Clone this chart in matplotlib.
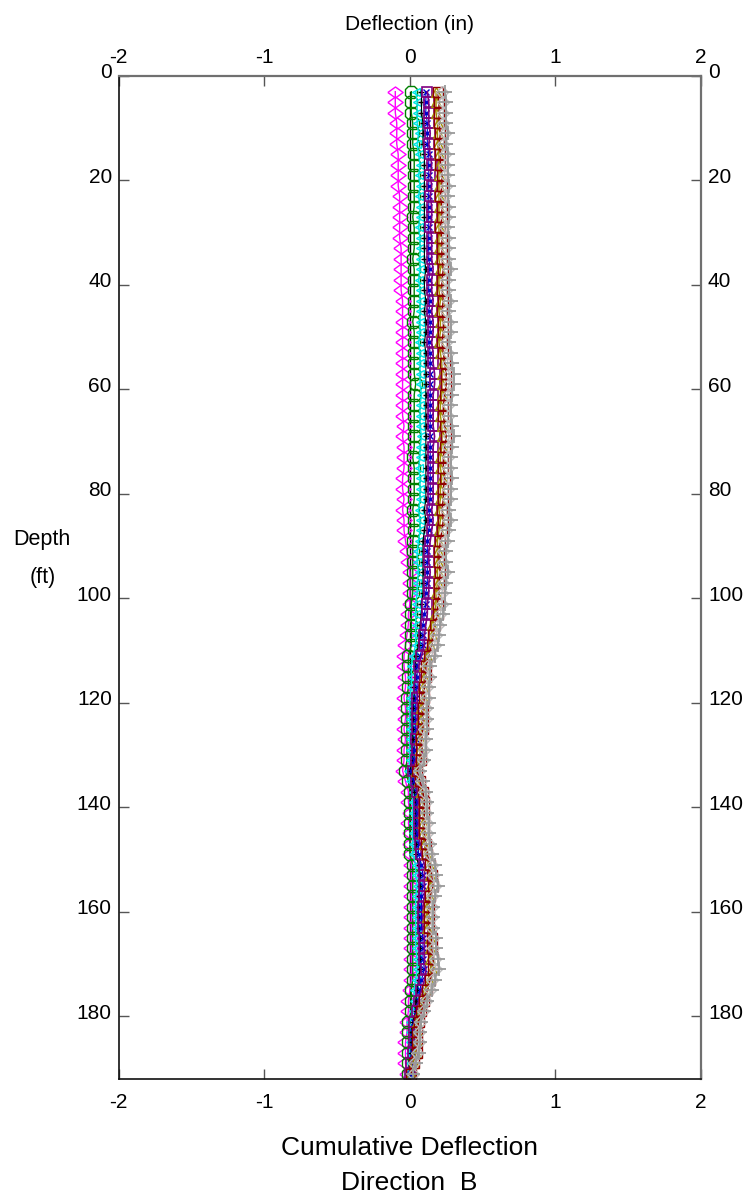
import numpy as np
import matplotlib
matplotlib.use("Agg")
import matplotlib.pyplot as plt
from matplotlib.transforms import ScaledTranslation

plt.rcParams['font.family'] = ['Liberation Sans', 'DejaVu Sans']

# Depth of readings (ft)
depth = np.arange(3, 192, 2)

# Cumulative deflection (in) for each reading set
baseline = [0.0] * len(depth)

magenta = [-0.10, -0.10, -0.10, -0.09, -0.09, -0.09, -0.08, -0.08, -0.08, -0.08,
           -0.07, -0.07, -0.07, -0.07, -0.07, -0.06, -0.06, -0.06, -0.06, -0.06,
           -0.05, -0.05, -0.05, -0.05, -0.05, -0.05, -0.05, -0.05, -0.05, -0.05,
           -0.05, -0.05, -0.04, -0.05, -0.04, -0.04, -0.04, -0.05, -0.05, -0.04,
           -0.05, -0.04, -0.04, -0.03, -0.02, -0.01, 0.00, 0.00, 0.00, 0.00,
           -0.01, -0.01, -0.02, -0.03, -0.04, -0.04, -0.03, -0.03, -0.04, -0.03,
           -0.03, -0.04, -0.03, -0.04, -0.04, -0.05, -0.03, -0.01, -0.01, 0.00,
           -0.01, 0.00, 0.00, 0.00, 0.01, 0.01, 0.01, 0.01, 0.01, 0.01,
           0.01, 0.01, 0.01, 0.01, 0.01, 0.01, 0.00, -0.01, -0.01, -0.02,
           -0.02, -0.03, -0.03, -0.03, -0.02]

green = [0.01, 0.01, 0.01, 0.02, 0.02, 0.02, 0.03, 0.03, 0.03, 0.03,
         0.03, 0.03, 0.02, 0.03, 0.03, 0.03, 0.02, 0.03, 0.03, 0.03,
         0.03, 0.03, 0.02, 0.03, 0.03, 0.03, 0.03, 0.03, 0.04, 0.03,
         0.03, 0.03, 0.03, 0.03, 0.03, 0.02, 0.03, 0.03, 0.03, 0.03,
         0.02, 0.03, 0.03, 0.02, 0.02, 0.02, 0.02, 0.02, 0.02, 0.01,
         0.01, 0.01, 0.01, 0.01, -0.01, -0.01, -0.01, -0.01, -0.02, -0.02,
         -0.02, -0.02, -0.02, -0.02, -0.02, -0.03, -0.01, 0.00, 0.00, 0.00,
         0.00, 0.00, 0.00, 0.00, 0.02, 0.02, 0.02, 0.02, 0.02, 0.02,
         0.02, 0.02, 0.02, 0.02, 0.02, 0.02, 0.01, 0.01, 0.01, -0.01,
         -0.01, -0.01, -0.01, -0.01, -0.01]

cyan = [0.04, 0.05, 0.05, 0.05, 0.06, 0.05, 0.06, 0.07, 0.06, 0.07,
        0.06, 0.07, 0.07, 0.06, 0.07, 0.07, 0.07, 0.07, 0.06, 0.07,
        0.07, 0.07, 0.07, 0.07, 0.06, 0.07, 0.07, 0.07, 0.07, 0.08,
        0.07, 0.07, 0.07, 0.08, 0.07, 0.07, 0.06, 0.07, 0.07, 0.07,
        0.06, 0.07, 0.07, 0.06, 0.05, 0.05, 0.06, 0.05, 0.05, 0.04,
        0.04, 0.04, 0.04, 0.04, 0.02, 0.01, 0.01, 0.01, 0.00, 0.00,
        0.00, 0.00, 0.00, 0.00, 0.00, -0.01, 0.00, 0.02, 0.02, 0.02,
        0.02, 0.02, 0.02, 0.02, 0.04, 0.04, 0.05, 0.04, 0.04, 0.04,
        0.04, 0.04, 0.04, 0.05, 0.05, 0.04, 0.03, 0.03, 0.02, 0.00,
        0.00, 0.00, 0.00, 0.00, -0.01]

black = [0.08, 0.08, 0.08, 0.09, 0.09, 0.09, 0.10, 0.10, 0.10, 0.10,
         0.10, 0.10, 0.10, 0.10, 0.10, 0.10, 0.10, 0.11, 0.10, 0.10,
         0.11, 0.10, 0.11, 0.11, 0.10, 0.11, 0.11, 0.11, 0.11, 0.11,
         0.11, 0.11, 0.11, 0.11, 0.11, 0.11, 0.11, 0.11, 0.11, 0.11,
         0.10, 0.11, 0.10, 0.09, 0.09, 0.09, 0.09, 0.09, 0.09, 0.08,
         0.08, 0.07, 0.07, 0.06, 0.04, 0.04, 0.04, 0.03, 0.03, 0.02,
         0.02, 0.02, 0.02, 0.02, 0.02, 0.00, 0.02, 0.03, 0.04, 0.04,
         0.04, 0.04, 0.04, 0.04, 0.06, 0.07, 0.07, 0.06, 0.06, 0.06,
         0.06, 0.07, 0.07, 0.07, 0.07, 0.06, 0.05, 0.04, 0.04, 0.02,
         0.01, 0.01, 0.01, 0.01, 0.00]

blue = [0.11, 0.11, 0.11, 0.12, 0.12, 0.12, 0.13, 0.13, 0.13, 0.13,
        0.13, 0.13, 0.13, 0.13, 0.13, 0.13, 0.13, 0.14, 0.13, 0.13,
        0.14, 0.13, 0.14, 0.14, 0.13, 0.14, 0.14, 0.14, 0.14, 0.14,
        0.14, 0.14, 0.14, 0.14, 0.14, 0.14, 0.14, 0.14, 0.14, 0.14,
        0.13, 0.14, 0.13, 0.12, 0.12, 0.12, 0.12, 0.12, 0.11, 0.11,
        0.10, 0.09, 0.09, 0.09, 0.07, 0.05, 0.05, 0.05, 0.04, 0.04,
        0.04, 0.04, 0.04, 0.03, 0.03, 0.01, 0.03, 0.05, 0.05, 0.05,
        0.05, 0.05, 0.06, 0.06, 0.08, 0.09, 0.09, 0.08, 0.08, 0.08,
        0.08, 0.09, 0.09, 0.09, 0.10, 0.08, 0.07, 0.06, 0.05, 0.03,
        0.02, 0.02, 0.02, 0.01, 0.00]

purple = [0.12, 0.13, 0.13, 0.13, 0.14, 0.13, 0.14, 0.15, 0.14, 0.15,
          0.14, 0.15, 0.15, 0.14, 0.15, 0.15, 0.15, 0.16, 0.15, 0.15,
          0.16, 0.15, 0.16, 0.16, 0.15, 0.16, 0.16, 0.17, 0.17, 0.16,
          0.16, 0.16, 0.16, 0.17, 0.16, 0.16, 0.16, 0.16, 0.16, 0.16,
          0.15, 0.16, 0.15, 0.14, 0.13, 0.13, 0.14, 0.13, 0.13, 0.12,
          0.12, 0.11, 0.10, 0.10, 0.08, 0.06, 0.07, 0.06, 0.05, 0.05,
          0.05, 0.05, 0.04, 0.05, 0.04, 0.02, 0.04, 0.05, 0.06, 0.06,
          0.06, 0.06, 0.07, 0.08, 0.10, 0.10, 0.10, 0.10, 0.09, 0.09,
          0.09, 0.10, 0.10, 0.10, 0.11, 0.10, 0.08, 0.06, 0.05, 0.03,
          0.03, 0.03, 0.02, 0.01, 0.00]

olive = [0.18, 0.18, 0.18, 0.19, 0.19, 0.19, 0.20, 0.20, 0.20, 0.20,
         0.20, 0.20, 0.20, 0.20, 0.20, 0.20, 0.20, 0.21, 0.20, 0.20,
         0.21, 0.20, 0.21, 0.21, 0.20, 0.21, 0.22, 0.22, 0.22, 0.22,
         0.21, 0.21, 0.22, 0.22, 0.22, 0.21, 0.21, 0.22, 0.21, 0.21,
         0.20, 0.21, 0.20, 0.19, 0.19, 0.19, 0.19, 0.19, 0.18, 0.18,
         0.17, 0.15, 0.15, 0.14, 0.12, 0.10, 0.10, 0.09, 0.09, 0.08,
         0.08, 0.08, 0.07, 0.07, 0.07, 0.04, 0.06, 0.08, 0.09, 0.09,
         0.09, 0.09, 0.10, 0.11, 0.13, 0.14, 0.14, 0.13, 0.12, 0.12,
         0.12, 0.14, 0.14, 0.14, 0.15, 0.13, 0.11, 0.09, 0.07, 0.05,
         0.05, 0.05, 0.04, 0.03, 0.01]

darkred = [0.19, 0.20, 0.20, 0.20, 0.21, 0.20, 0.21, 0.21, 0.22, 0.22,
           0.21, 0.22, 0.22, 0.21, 0.22, 0.22, 0.22, 0.23, 0.22, 0.22,
           0.23, 0.22, 0.23, 0.23, 0.22, 0.23, 0.24, 0.25, 0.25, 0.24,
           0.23, 0.23, 0.24, 0.25, 0.24, 0.23, 0.23, 0.24, 0.23, 0.23,
           0.22, 0.23, 0.22, 0.21, 0.20, 0.20, 0.21, 0.20, 0.20, 0.19,
           0.19, 0.17, 0.16, 0.15, 0.13, 0.11, 0.11, 0.10, 0.10, 0.09,
           0.09, 0.09, 0.08, 0.08, 0.08, 0.05, 0.07, 0.09, 0.10, 0.10,
           0.10, 0.10, 0.11, 0.12, 0.14, 0.15, 0.16, 0.14, 0.13, 0.13,
           0.13, 0.15, 0.15, 0.16, 0.16, 0.14, 0.12, 0.10, 0.08, 0.06,
           0.05, 0.05, 0.05, 0.03, 0.01]

silver = [0.22, 0.23, 0.23, 0.23, 0.24, 0.23, 0.24, 0.24, 0.24, 0.25,
          0.24, 0.25, 0.25, 0.24, 0.25, 0.25, 0.25, 0.26, 0.25, 0.25,
          0.26, 0.25, 0.26, 0.26, 0.25, 0.26, 0.26, 0.27, 0.27, 0.26,
          0.26, 0.26, 0.26, 0.27, 0.26, 0.26, 0.26, 0.26, 0.26, 0.26,
          0.25, 0.26, 0.25, 0.24, 0.23, 0.23, 0.24, 0.23, 0.22, 0.22,
          0.21, 0.19, 0.18, 0.17, 0.15, 0.12, 0.13, 0.12, 0.11, 0.11,
          0.11, 0.10, 0.10, 0.10, 0.09, 0.06, 0.08, 0.10, 0.11, 0.11,
          0.12, 0.12, 0.13, 0.13, 0.15, 0.16, 0.17, 0.15, 0.15, 0.15,
          0.15, 0.16, 0.16, 0.17, 0.18, 0.15, 0.14, 0.11, 0.09, 0.07,
          0.06, 0.06, 0.05, 0.03, 0.02]

gray = [0.24, 0.25, 0.25, 0.25, 0.26, 0.25, 0.26, 0.26, 0.26, 0.27,
        0.26, 0.27, 0.27, 0.26, 0.27, 0.27, 0.27, 0.28, 0.27, 0.27,
        0.28, 0.27, 0.28, 0.28, 0.27, 0.28, 0.29, 0.30, 0.30, 0.29,
        0.28, 0.28, 0.29, 0.30, 0.29, 0.28, 0.28, 0.29, 0.28, 0.28,
        0.27, 0.28, 0.27, 0.26, 0.25, 0.25, 0.26, 0.25, 0.24, 0.24,
        0.23, 0.21, 0.20, 0.19, 0.17, 0.14, 0.14, 0.13, 0.13, 0.12,
        0.12, 0.12, 0.11, 0.11, 0.10, 0.07, 0.09, 0.11, 0.12, 0.12,
        0.13, 0.13, 0.14, 0.15, 0.17, 0.18, 0.19, 0.17, 0.16, 0.16,
        0.16, 0.18, 0.18, 0.19, 0.20, 0.17, 0.15, 0.12, 0.10, 0.08,
        0.07, 0.07, 0.06, 0.04, 0.02]

x_ticks = [-2, -1, 0, 1, 2]
y_ticks = [0, 20, 40, 60, 80, 100, 120, 140, 160, 180]

wide_diamond = [(-1, 0), (0, 0.72), (1, 0), (0, -0.72), (-1, 0)]

series = [
    (baseline, dict(color='black', lw=1.0, marker=None)),
    (magenta, dict(color='#FF00FF', lw=1.0, marker=wide_diamond, ms=11, mfc='none', mew=1.0)),
    (green, dict(color='#008000', lw=1.0, marker='8', ms=10, mfc='none', mew=1.0)),
    (cyan, dict(color='#00E5E5', lw=1.0, marker='<', ms=6, mfc='none', mew=1.0)),
    (black, dict(color='black', lw=0.8, marker='+', ms=5, mew=1.0)),
    (blue, dict(color='#0000CC', lw=0.8, marker='x', ms=4, mew=1.0)),
    (purple, dict(color='#800080', lw=1.2, marker='s', ms=7, mfc='none', mew=1.2)),
    (olive, dict(color='#A09000', lw=1.0, marker='^', ms=7, mfc='none', mew=1.0)),
    (darkred, dict(color='#900000', lw=1.0, marker='s', ms=7, mfc='none', mew=1.0)),
    (silver, dict(color='#BBBBBB', lw=1.0, marker='D', ms=6, mfc='none', mew=1.0)),
    (gray, dict(color='#9A9A9A', lw=1.0, marker='+', ms=10, mew=1.3)),
]

fig = plt.figure(figsize=(7.45, 11.97), dpi=100)
ax = fig.add_axes([118.7 / 745, 1 - 1079 / 1197, (701 - 118.7) / 745, (1079 - 76) / 1197])

for vals, st in series:
    ax.plot(vals, depth, **st)

ax.set_xlim(-2, 2)
ax.set_ylim(192, 0)
ax.set_xticks(x_ticks)
ax.set_yticks(y_ticks)
ax.set_xticklabels([str(v) for v in x_ticks])
ax.set_yticklabels([str(v) for v in y_ticks])

ax.tick_params(axis='both', which='both', direction='in', length=7.5, width=1.0,
               color='#555555', labelsize=15, top=True, right=True,
               labeltop=True, labelright=True)
ax.tick_params(axis='x', which='both', pad=10)
ax.tick_params(axis='y', which='both', pad=5)

for side in ['left', 'bottom']:
    ax.spines[side].set_color('#111111')
    ax.spines[side].set_linewidth(1.2)
for side in ['top', 'right']:
    ax.spines[side].set_color('#707070')
    ax.spines[side].set_linewidth(1.6)

offset_up = ScaledTranslation(0, 5 / 100, fig.dpi_scale_trans)
for t in ax.yaxis.get_major_ticks():
    t.label1.set_transform(t.label1.get_transform() + offset_up)
    t.label2.set_transform(t.label2.get_transform() + offset_up)
offset_down = ScaledTranslation(0, -5 / 100, fig.dpi_scale_trans)
for t in ax.xaxis.get_major_ticks():
    t.label2.set_transform(t.label2.get_transform() + offset_down)

fig.text(409.3 / 745, 1 - 25 / 1197, 'Deflection (in)', ha='center', va='center', fontsize=15)
fig.text(42 / 745, 1 - 540 / 1197, 'Depth', ha='center', va='center', fontsize=15.5)
fig.text(43 / 745, 1 - 578 / 1197, '(ft)', ha='center', va='center', fontsize=15.5)
fig.text(409.3 / 745, 1 - 1148 / 1197, 'Cumulative Deflection', ha='center', va='center', fontsize=19)
fig.text(409.3 / 745, 1 - 1183 / 1197, 'Direction  B', ha='center', va='center', fontsize=19)

fig.savefig('out.png', dpi=100)
